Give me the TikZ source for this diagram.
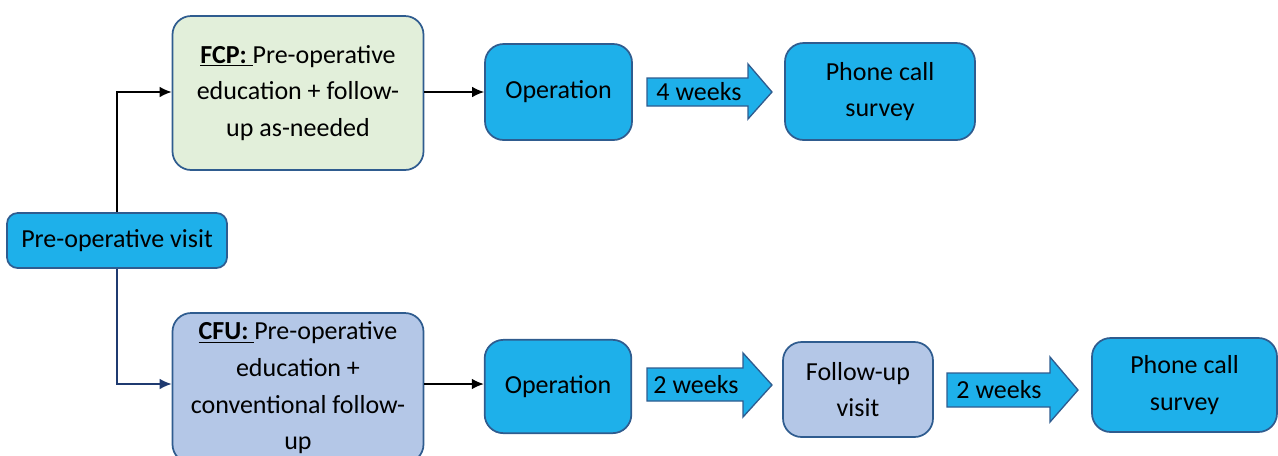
\documentclass[tikz,border=0pt]{standalone}
\usepackage{fontspec}
\setmainfont{Carlito}
\usetikzlibrary{arrows.meta}
\definecolor{cyanfill}{HTML}{1EB0EA}
\definecolor{bordblue}{HTML}{2F5C8F}
\definecolor{greenfill}{HTML}{E2EFDA}
\definecolor{lightblue}{HTML}{B4C7E7}
\definecolor{navy}{HTML}{1F3A70}
\tikzset{
  box/.style={draw=bordblue, line width=1.3pt, rounded corners=14pt, align=center,
    font=\fontsize{19.5}{27.5}\selectfont, inner sep=0pt},
  cbox/.style={box, fill=cyanfill},
  gbox/.style={box, fill=greenfill},
  lbox/.style={box, fill=lightblue},
  conn/.style={line width=1.1pt, -{Latex[length=9pt,width=8pt]}},
  blockarrow/.style={draw=bordblue, line width=1pt, fill=cyanfill},
  lbl/.style={font=\fontsize{19.5}{27.5}\selectfont, inner sep=0pt}
}
\begin{document}
\begin{tikzpicture}[x=0.75pt,y=-0.75pt]
\useasboundingbox (0,0) rectangle (1278,455);
\clip (0,0) rectangle (1278,455);
% nodes
\node[gbox, minimum width=188.25pt, minimum height=115.5pt] (fcp) at (298,93)
  {\underline{\textbf{FCP:}\hspace{0.22em}}Pre-operative\\education + follow-\\up as-needed};
\node[cbox, rounded corners=8pt, minimum width=165pt, minimum height=41.25pt] (pre) at (117,240.5)
  {Pre-operative visit};
\node[lbox, minimum width=188.25pt, minimum height=112.5pt] (cfu) at (298,388)
  {\underline{\textbf{CFU:}\hspace{0.22em}}Pre-operative\\education +\\conventional follow-\\up};
\node[cbox, minimum width=110.25pt, minimum height=72pt] (op1) at (558.5,92) {Operation};
\node[cbox, minimum width=142.5pt, minimum height=72.75pt] (ph1) at (880,91.5) {Phone call\\survey};
\node[cbox, minimum width=110pt, minimum height=70pt] (op2) at (558,386.5) {Operation};
\node[lbox, minimum width=112.5pt, minimum height=71.25pt] (fu) at (858,389.5) {Follow-up\\visit};
\node[cbox, minimum width=138.75pt, minimum height=70.5pt] (ph2) at (1184.5,385) {Phone call\\survey};
% connectors
\draw[conn] (pre.north) |- (fcp.west |- 0,92);
\draw[conn, navy] (pre.south) |- (cfu.west |- 0,384);
\draw[conn] (fcp.east |- 0,92) -- (op1.west |- 0,92);
\draw[conn] (cfu.east |- 0,384) -- (op2.west |- 0,384);
% block arrows
\draw[blockarrow] (647,78) -- (748,78) -- (748,64) -- (772,92) -- (748,119) -- (748,106) -- (647,106) -- cycle;
\node[lbl] (w1) at (699,92) {4 weeks};
\draw[blockarrow] (647,368) -- (743,368) -- (743,353) -- (772,385) -- (743,417) -- (743,401) -- (647,401) -- cycle;
\node[lbl] (w2) at (696,385) {2 weeks};
\draw[blockarrow] (947,373) -- (1050,373) -- (1050,357) -- (1078,390) -- (1050,422) -- (1050,407) -- (947,407) -- cycle;
\node[lbl] (w3) at (999,390) {2 weeks};
\end{tikzpicture}
\end{document}
